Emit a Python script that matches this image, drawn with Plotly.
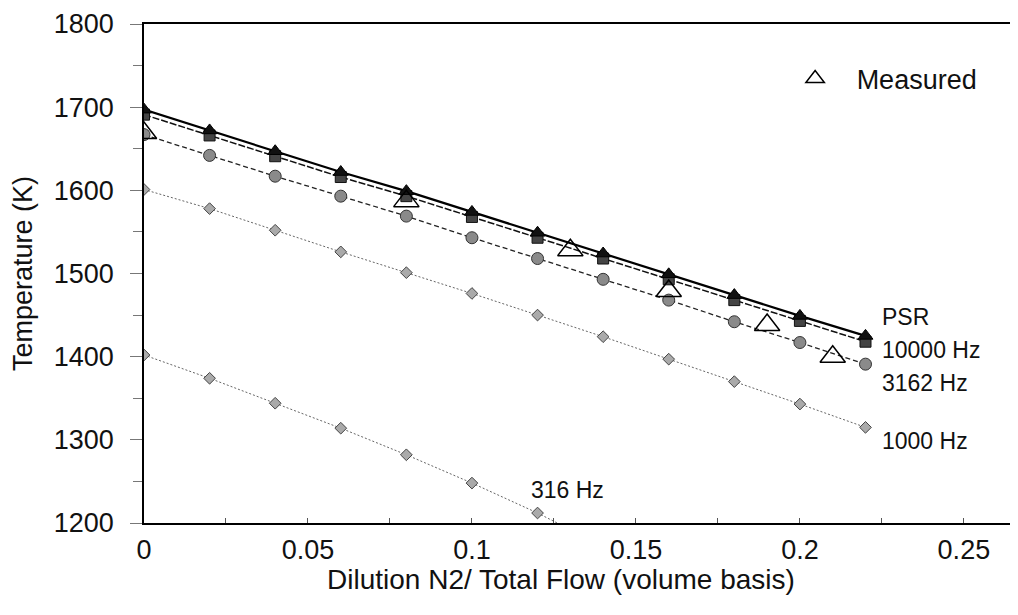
import plotly.graph_objects as go

dilution = [0.0, 0.02, 0.04, 0.06, 0.08, 0.10, 0.12, 0.14, 0.16, 0.18, 0.20, 0.22]
psr = [1697, 1672, 1647, 1622, 1599, 1574, 1549, 1524, 1499, 1474, 1449, 1425]
hz10000 = [1691, 1666, 1641, 1616, 1593, 1568, 1543, 1518, 1493, 1468, 1443, 1418]
hz3162 = [1667, 1642, 1617, 1593, 1569, 1543, 1518, 1493, 1468, 1442, 1417, 1391]
hz1000 = [1601, 1578, 1552, 1526, 1501, 1476, 1450, 1424, 1397, 1370, 1343, 1315]
dilution_316 = [0.0, 0.02, 0.04, 0.06, 0.08, 0.10, 0.12, 0.14]
hz316 = [1402, 1374, 1344, 1314, 1282, 1248, 1212, 1172]

meas_x = [0.0, 0.08, 0.13, 0.16, 0.19, 0.21]
meas_y = [1669, 1587, 1528, 1479, 1438, 1400]

labels = ["PSR", "10000 Hz", "3162 Hz", "1000 Hz", "316 Hz"]
label_x = [0.2245, 0.2245, 0.2245, 0.2245, 0.1175]
label_y = [1448, 1408, 1368, 1299, 1240]

x_title = "Dilution N2/ Total Flow (volume basis)"
y_title = "Temperature (K)"

FONT = "Liberation Sans, Arial, Helvetica, sans-serif"

fig = go.Figure()

fig.add_trace(go.Scatter(x=dilution_316, y=hz316, mode="lines+markers", showlegend=False,
                         line=dict(color="#666", width=1, dash="2px,2px"),
                         marker=dict(symbol="diamond", size=9, color="#aaa", line=dict(color="#444", width=1))))
fig.add_trace(go.Scatter(x=dilution, y=hz1000, mode="lines+markers", showlegend=False,
                         line=dict(color="#666", width=1, dash="2px,2px"),
                         marker=dict(symbol="diamond", size=9, color="#aaa", line=dict(color="#444", width=1))))
fig.add_trace(go.Scatter(x=dilution, y=hz3162, mode="lines+markers", showlegend=False,
                         line=dict(color="#222", width=1.3, dash="5px,3px"),
                         marker=dict(symbol="circle", size=12, color="#8a8a8a", line=dict(color="#333", width=1))))
fig.add_trace(go.Scatter(x=dilution, y=hz10000, mode="lines+markers", showlegend=False,
                         line=dict(color="#111", width=1.5, dash="7px,2px"),
                         marker=dict(symbol="square", size=11, color="#444", line=dict(color="#111", width=1))))
fig.add_trace(go.Scatter(x=dilution, y=psr, mode="lines+markers", showlegend=False,
                         line=dict(color="black", width=2.2),
                         marker=dict(symbol="triangle-up", size=13, color="#111", line=dict(color="black", width=1))))
fig.add_trace(go.Scatter(x=meas_x, y=meas_y, mode="markers", name="Measured", showlegend=True,
                         marker=dict(symbol="triangle-up-open", size=22, color="black", line=dict(width=1.5))))

for t, xx, yy in zip(labels, label_x, label_y):
    fig.add_annotation(x=xx, y=yy, text=t, showarrow=False, xanchor="left", yanchor="middle",
                       font=dict(family=FONT, size=23, color="#111"))

fig.add_annotation(x=0.477, y=-0.114, xref="paper", yref="paper", text=x_title, showarrow=False,
                   xanchor="center", yanchor="middle", font=dict(family=FONT, size=28, color="#111"))

fig.update_layout(
    width=1018, height=615,
    margin=dict(l=136, r=8, t=16, b=100),
    paper_bgcolor="white", plot_bgcolor="white",
    font=dict(family=FONT, size=27, color="#111"),
    legend=dict(x=0.7204, y=0.939, xanchor="left", yanchor="top", bgcolor="rgba(0,0,0,0)",
                font=dict(family=FONT, size=27), itemwidth=73),
)
fig.update_xaxes(range=[0, 0.2665], tickvals=[0, 0.05, 0.1, 0.15, 0.2, 0.25],
                 ticktext=["0", "0.05", "0.1", "0.15", "0.2", "0.25"], automargin=False,
                 showgrid=False, zeroline=False, showline=True, linecolor="black", linewidth=1.5,
                 mirror=True, ticks="inside", ticklen=5, tickcolor="#555",
                 minor=dict(dtick=0.025, ticks="inside", ticklen=5, tickcolor="#555"),
                 tickfont=dict(size=27), ticklabelstandoff=2)
fig.update_yaxes(range=[1200, 1800], dtick=100, showgrid=False, zeroline=False, automargin=False,
                 showline=True, linecolor="black", linewidth=1.5,
                 ticks="outside", ticklen=12, tickcolor="#777",
                 minor=dict(dtick=50, ticks="outside", ticklen=9, tickcolor="#777"),
                 title=dict(text=y_title, font=dict(size=27), standoff=14),
                 tickfont=dict(size=27), ticklabelstandoff=11)

fig.write_html("out.html")
